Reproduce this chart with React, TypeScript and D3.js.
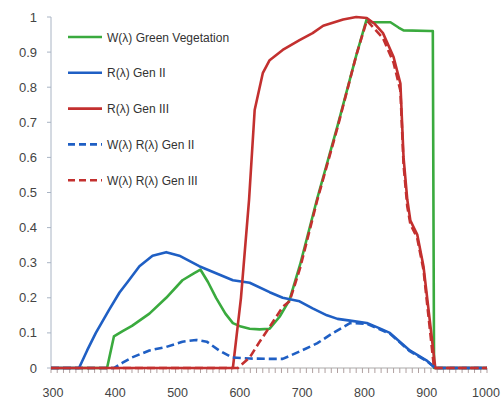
import React from 'react';
import * as d3 from 'd3';

// wavelength (nm) / value pairs
const greenWl = [300, 390, 401, 415, 430, 458, 485, 511, 530, 540, 552, 565, 580, 592, 605, 619, 635, 651, 667, 683, 700, 727, 760, 790, 807, 815, 833, 845, 858, 866, 909, 913, 915, 1000];
const greenVal = [0, 0, 0.09, 0.105, 0.12, 0.155, 0.2, 0.25, 0.27, 0.28, 0.245, 0.2, 0.155, 0.128, 0.118, 0.112, 0.11, 0.112, 0.146, 0.194, 0.295, 0.48, 0.69, 0.89, 0.995, 0.985, 0.985, 0.985, 0.97, 0.962, 0.96, 0.96, 0, 0];

const gen2Wl = [300, 345, 358, 372, 393, 410, 423, 442, 463, 485, 506, 538, 565, 592, 619, 651, 672, 699, 720, 743, 760, 780, 807, 825, 844, 860, 876, 890, 904, 917, 1000];
const gen2Val = [0, 0, 0.05, 0.1, 0.165, 0.215, 0.245, 0.29, 0.32, 0.33, 0.32, 0.29, 0.27, 0.25, 0.243, 0.216, 0.2, 0.19, 0.17, 0.15, 0.14, 0.135, 0.128, 0.115, 0.1, 0.075, 0.05, 0.035, 0.02, 0, 0];

const gen3Wl = [300, 592, 605, 618, 627, 640, 651, 672, 699, 720, 737, 769, 790, 807, 820, 833, 850, 861, 866, 872, 877, 888, 898, 917, 1000];
const gen3Val = [0, 0, 0.2, 0.48, 0.735, 0.84, 0.877, 0.906, 0.934, 0.954, 0.975, 0.993, 1, 0.997, 0.98, 0.954, 0.886, 0.81, 0.6, 0.48, 0.42, 0.38, 0.29, 0, 0];

const wr2Wl = [300, 401, 415, 430, 458, 485, 511, 533, 550, 570, 591, 619, 650, 672, 699, 727, 753, 780, 807, 844, 876, 904, 917, 1000];
const wr2Val = [0, 0, 0.015, 0.03, 0.05, 0.06, 0.075, 0.08, 0.075, 0.05, 0.03, 0.027, 0.026, 0.026, 0.047, 0.07, 0.1, 0.128, 0.126, 0.098, 0.048, 0.019, 0, 0];

const wr3Wl = [300, 600, 619, 635, 651, 672, 683, 700, 727, 760, 790, 807, 820, 833, 850, 861, 866, 872, 877, 888, 898, 915, 1000];
const wr3Val = [0, 0, 0.03, 0.075, 0.117, 0.174, 0.19, 0.285, 0.475, 0.685, 0.89, 0.99, 0.965, 0.94, 0.87, 0.79, 0.58, 0.46, 0.41, 0.37, 0.28, 0, 0];

const xTicks = [300, 400, 500, 600, 700, 800, 900, 1000];
const yTicks = [0, 0.1, 0.2, 0.3, 0.4, 0.5, 0.6, 0.7, 0.8, 0.9, 1];

const series = [
  { name: 'W(λ) Green Vegetation', wl: greenWl, val: greenVal, color: '#3aaa3e', dash: '' },
  { name: 'R(λ) Gen II', wl: gen2Wl, val: gen2Val, color: '#1f5fc4', dash: '' },
  { name: 'R(λ) Gen III', wl: gen3Wl, val: gen3Val, color: '#c3302f', dash: '' },
  { name: 'W(λ) R(λ) Gen II', wl: wr2Wl, val: wr2Val, color: '#1f5fc4', dash: '8,4' },
  { name: 'W(λ) R(λ) Gen III', wl: wr3Wl, val: wr3Val, color: '#c3302f', dash: '8,4' },
];

const W = 502;
const H = 405;

export default function App() {
  const x = d3.scaleLinear().domain([300, 1000]).range([51, 487]);
  const y = d3.scaleLinear().domain([0, 1]).range([368, 17]);
  const line = d3
    .line<[number, number]>()
    .x((d) => x(d[0]))
    .y((d) => y(d[1]));
  const minor = d3.range(300, 1001, 10);
  const font = '"Liberation Sans Narrow", "Liberation Sans", sans-serif';

  return (
    <svg width={W} height={H} style={{ position: 'absolute', left: 0, top: 0, background: '#fff' }}>
      {/* axes */}
      <line x1={x(300)} x2={x(300)} y1={y(0)} y2={y(1)} stroke="#a9b4c4" strokeWidth={1} />
      {yTicks.map((t) => (
        <g key={t}>
          <line x1={x(300) - 4} x2={x(300)} y1={y(t)} y2={y(t)} stroke="#a9b4c4" />
          <text x={37} y={y(t) + 4.5} textAnchor="end" fontSize={13} fontFamily={font} fill="#444">
            {t}
          </text>
        </g>
      ))}
      <line x1={x(300)} x2={x(1000)} y1={y(0)} y2={y(0)} stroke="#a9a9a9" />
      {minor.map((t) => (
        <line key={t} x1={x(t)} x2={x(t)} y1={y(0)} y2={y(0) + 5} stroke="#b0a0a0" />
      ))}
      {xTicks.map((t) => (
        <text key={t} x={Math.min(x(t) + 2, 486)} y={397} textAnchor="middle" fontSize={12.5} fontFamily={font} fill="#444">
          {t}
        </text>
      ))}
      {/* series */}
      {series.map((s) => (
        <path
          key={s.name}
          d={line(s.wl.map((w, i) => [w, s.val[i]] as [number, number])) || ''}
          fill="none"
          stroke={s.color}
          strokeWidth={2.6}
          strokeDasharray={s.dash}
          strokeLinejoin="round"
        />
      ))}
      {/* legend */}
      {series.map((s, i) => (
        <g key={s.name} transform={`translate(68,${37 + i * 35.8})`}>
          <line x1={0} x2={34} y1={0} y2={0} stroke={s.color} strokeWidth={2.6} strokeDasharray={s.dash ? '7,4' : ''} />
          <text x={39} y={4.5} fontSize={12} fontFamily={font} fill="#333">
            {s.name}
          </text>
        </g>
      ))}
    </svg>
  );
}
